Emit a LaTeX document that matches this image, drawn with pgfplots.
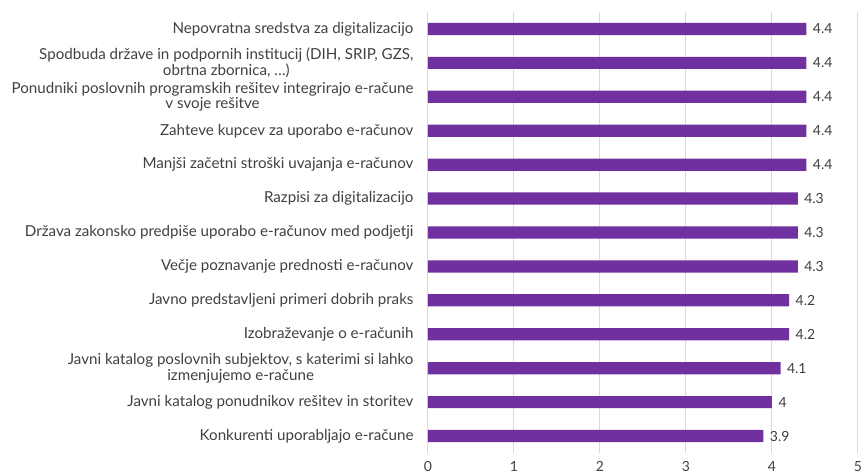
\documentclass[border=0pt]{standalone}
\usepackage{pgfplots}
\pgfplotsset{compat=1.18}
\usepackage{fontspec}
\setmainfont{Lato}
\definecolor{barpurple}{HTML}{7030A0}
\definecolor{txt}{HTML}{404040}
\definecolor{gridc}{HTML}{D9D9D9}
\begin{document}
\begin{tikzpicture}
\begin{axis}[
  at={(0,0)}, anchor=north west,
  scale only axis, width=430bp, height=441bp,
  xbar, bar width=0.36,
  xmin=0, xmax=5, ymin=-0.5, ymax=12.5, y dir=reverse,
  xtick={0,1,2,3,4,5}, ytick={0,1,...,12},
  yticklabels={
    {Nepovratna sredstva za digitalizacijo},
    {Spodbuda države in podpornih institucij (DIH, SRIP, GZS,\\obrtna zbornica, …)},
    {Ponudniki poslovnih programskih rešitev integrirajo e-račune\\v svoje rešitve},
    {Zahteve kupcev za uporabo e-računov},
    {Manjši začetni stroški uvajanja e-računov},
    {Razpisi za digitalizacijo},
    {Država zakonsko predpiše uporabo e-računov med podjetji},
    {Večje poznavanje prednosti e-računov},
    {Javno predstavljeni primeri dobrih praks},
    {Izobraževanje o e-računih},
    {Javni katalog poslovnih subjektov, s katerimi si lahko\\izmenjujemo e-račune},
    {Javni katalog ponudnikov rešitev in storitev},
    {Konkurenti uporabljajo e-račune}
  },
  xmajorgrids, major grid style={gridc, line width=1bp},
  axis line style={draw=none},
  major tick length=0pt,
  yticklabel style={font=\fontsize{15.2}{16}\selectfont, text=txt, align=center, xshift=-11bp},
  xticklabel style={font=\fontsize{14}{16}\selectfont, text=txt, yshift=-5bp},
  /pgf/number format/assume math mode=true,
  nodes near coords, point meta=x,
  nodes near coords style={font=\fontsize{14}{16}\selectfont, text=txt, xshift=3bp},
]
\addplot[fill=barpurple, draw=none] coordinates {
  (4.4,0) (4.4,1) (4.4,2) (4.4,3) (4.4,4) (4.3,5) (4.3,6)
  (4.3,7) (4.2,8) (4.2,9) (4.1,10) (4,11) (3.9,12)
};
\end{axis}
\pgfresetboundingbox
\useasboundingbox (-428bp,12bp) rectangle (433bp,-463bp);
\end{tikzpicture}
\end{document}
